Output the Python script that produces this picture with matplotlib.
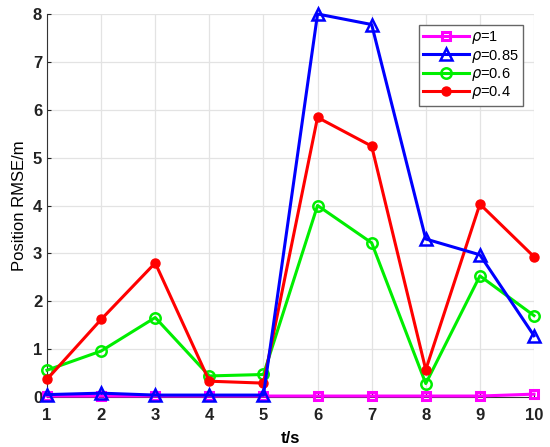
import numpy as np
import matplotlib.pyplot as plt

plt.rcParams['font.family'] = ['Liberation Sans', 'DejaVu Sans']

t = [1, 2, 3, 4, 5, 6, 7, 8, 9, 10]
rmse_1 = [0.02, 0.02, 0.02, 0.02, 0.02, 0.02, 0.02, 0.02, 0.02, 0.06]
rmse_085 = [0.05, 0.08, 0.04, 0.04, 0.04, 8.0, 7.78, 3.3, 2.97, 1.28]
rmse_06 = [0.56, 0.96, 1.66, 0.44, 0.47, 4.0, 3.22, 0.28, 2.53, 1.7]
rmse_04 = [0.37, 1.62, 2.8, 0.33, 0.29, 5.84, 5.24, 0.57, 4.03, 2.93]

fig = plt.figure(figsize=(5.5, 4.47), dpi=100)
ax = fig.add_axes([47/550, 50/447, 487/550, 383/447])

lw = 2.2
ms = 6.5
ax.plot(t, rmse_1, '-s', color='magenta', lw=lw, ms=6, mfc='none', mew=2.2,
        label=r'$\rho$=1', zorder=3, clip_on=False)
ax.plot(t, rmse_085, '-^', color='blue', lw=lw, ms=ms + 1.5, mfc='none', mew=1.8,
        label=r'$\rho$=0.85', zorder=4, clip_on=False)
ax.plot(t, rmse_06, '-o', color='#00ee00', lw=lw, ms=ms + 1, mfc='none', mew=1.8,
        label=r'$\rho$=0.6', zorder=3, clip_on=False)
ax.plot(t, rmse_04, '-o', color='red', lw=lw, ms=ms,
        label=r'$\rho$=0.4', zorder=3, clip_on=False)

ax.set_xlim(1, 10)
ax.set_ylim(0, 8)
ax.set_xticks(t)
ax.set_yticks(range(0, 9))
ax.grid(True, color='#e3e3e3', lw=0.9)
ax.set_axisbelow(True)
for s in ['top', 'right']:
    ax.spines[s].set_visible(False)
ax.spines['left'].set_color('#333333')
ax.spines['bottom'].set_color('#333333')
ax.tick_params(direction='in', length=3, labelsize=12, colors='#222222')
ax.tick_params(axis='x', pad=8)
for lbl in ax.get_xticklabels() + ax.get_yticklabels():
    lbl.set_fontweight('bold')

ax.set_xlabel('t/s', fontsize=12, fontweight='bold', labelpad=6)
ax.set_ylabel('Position RMSE/m', fontsize=12, labelpad=4)

leg = ax.legend(loc='upper right', bbox_to_anchor=(0.977, 0.972), fontsize=10.5,
                handlelength=3.1, labelspacing=0.1, borderpad=0.3,
                handletextpad=0.15, borderaxespad=0, fancybox=False, framealpha=1)
leg.get_frame().set_edgecolor('#666666')

fig.savefig('out.png', dpi=100)
